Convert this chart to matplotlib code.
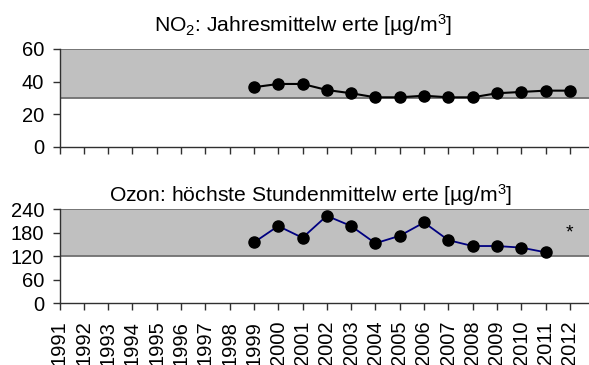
import matplotlib.pyplot as plt
import numpy as np

plt.rcParams['font.family'] = ['Liberation Sans', 'DejaVu Sans']
plt.rcParams['mathtext.fontset'] = 'custom'
plt.rcParams['mathtext.rm'] = 'Liberation Sans'
plt.rcParams['mathtext.it'] = 'Liberation Sans'

years = list(range(1991, 2013))
no2_years = list(range(1999, 2013))
no2_values = [36.5, 38.5, 38.5, 34.8, 32.8, 30.3, 30.3, 31.3, 30.3, 30.3, 32.8, 33.6, 34.4, 34.4]
ozon_years = list(range(1999, 2012))
ozon_values = [155, 197, 167, 223, 197, 153, 172, 206, 161, 146, 146, 142, 130]

no2_band = (30, 60)
ozon_band = (120, 240)
no2_yticks = [0, 20, 40, 60]
ozon_yticks = [0, 60, 120, 180, 240]

fig = plt.figure(figsize=(5.89, 3.65), dpi=100)
left = 59.5 / 589
ax1 = fig.add_axes([left, 0.598, 1 - left, 0.268])
ax2 = fig.add_axes([left, 0.169, 1 - left, 0.258])

# axis runs a bit past the last year
xmax = 1991 + (589 - 59.5) / 24.3


def setup(ax, band, yticks, labels):
    ax.axhspan(band[0], band[1], color='#c0c0c0', lw=0, zorder=0)
    ax.axhline(band[0], color='#707070', lw=1.3, zorder=1)
    ax.axhline(band[1], color='#707070', lw=1.3, zorder=1)
    ax.set_xlim(1991, xmax)
    ax.set_ylim(yticks[0], yticks[-1])
    ax.set_yticks(yticks)
    ax.set_xticks(years)
    for s in ['top', 'right']:
        ax.spines[s].set_visible(False)
    for s in ['left', 'bottom']:
        ax.spines[s].set_color('#303030')
        ax.spines[s].set_linewidth(1.0)
    ax.tick_params(axis='both', direction='out', length=5, width=1,
                   color='#303030')
    ax.tick_params(axis='y', labelsize=14.5, pad=6)
    if labels:
        ax.set_xticklabels([str(y) for y in years], rotation=90)
        ax.tick_params(axis='x', labelsize=14.5, pad=7.5)
    else:
        ax.set_xticklabels([])


setup(ax1, no2_band, no2_yticks, False)
setup(ax2, ozon_band, ozon_yticks, True)

ax1.plot(no2_years, no2_values, color='black', lw=1.5, marker='o',
         ms=8, mfc='black', mec='black', zorder=3, clip_on=False)
ax2.plot(ozon_years, ozon_values, color='#000080', lw=1.3, marker='o',
         ms=8, mfc='black', mec='black', zorder=3, clip_on=False)
ax2.text(2012, 179, '*', ha='center', va='center', fontsize=14)

fig.text(303.5 / 589, 0.912, 'NO$_2$: Jahresmittelw erte [µg/m$^3$]',
         ha='center', va='baseline', fontsize=15.2)
fig.text(310.5 / 589, 0.447, 'Ozon: höchste Stundenmittelw erte [µg/m$^3$]',
         ha='center', va='baseline', fontsize=15.2)

fig.savefig('out.png', dpi=100)
